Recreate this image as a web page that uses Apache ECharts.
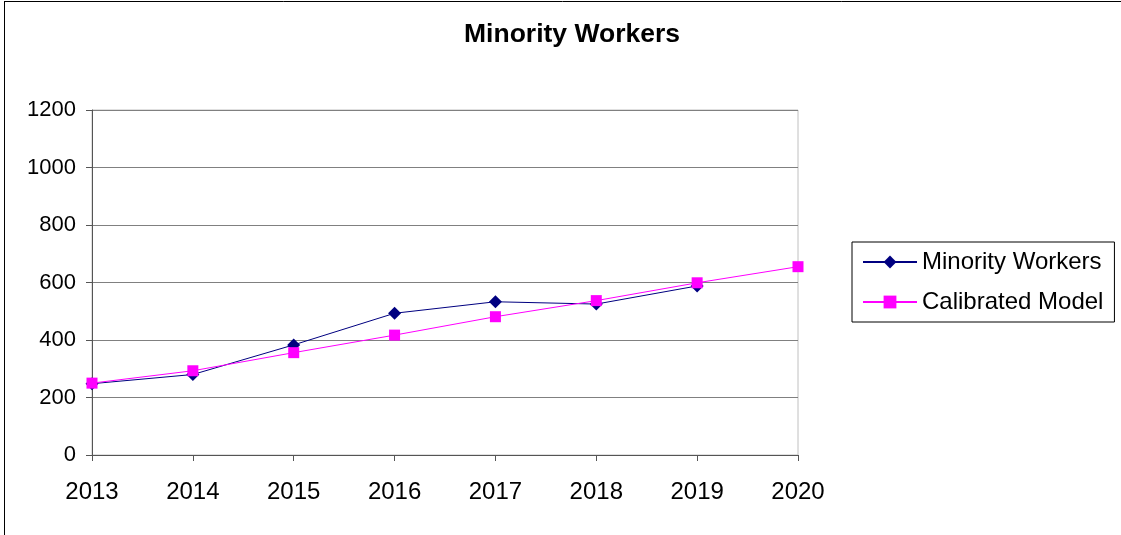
<!DOCTYPE html>
<html>
<head>
<meta charset="utf-8">
<script src="https://cdn.jsdelivr.net/npm/echarts@6/dist/echarts.min.js"></script>
<style>
  html, body { margin: 0; padding: 0; background: #fff; }
  #chart { width: 1121px; height: 535px; }
</style>
</head>
<body>
<div id="chart"></div>
<script>
const years = ['2013', '2014', '2015', '2016', '2017', '2018', '2019', '2020']
const minorityWorkers = [248, 280, 383, 493, 533, 525, 588, null]
const calibratedModel = [250, 293, 356, 417, 481, 537, 599, 655]
const yTicks = { min: 0, max: 1200, interval: 200 }

const chart = echarts.init(document.getElementById('chart'))
const font = 'Liberation Sans, Arial, sans-serif'

const option = {
  backgroundColor: '#fff',
  animation: false,
  title: {
    text: 'Minority Workers',
    left: 567,
    top: 16,
    textAlign: 'center',
    textStyle: { fontFamily: font, fontSize: 26.5, fontWeight: 'bold', color: '#000' }
  },
  legend: {
    orient: 'vertical',
    left: 852,
    top: 242,
    padding: [8, 11, 8, 10],
    itemGap: 16,
    itemWidth: 54,
    itemHeight: 16,
    borderColor: '#000',
    borderWidth: 1,
    textStyle: { fontFamily: font, fontSize: 24, color: '#000' },
    data: ['Minority Workers', 'Calibrated Model']
  },
  grid: {
    left: 92,
    right: 323,
    top: 110,
    bottom: 80,
    show: true,
    borderColor: '#c0c0c0',
    borderWidth: 1
  },
  xAxis: {
    type: 'category',
    data: years,
    boundaryGap: false,
    axisLine: { lineStyle: { color: '#555', width: 1 } },
    axisTick: { show: true, length: 6, inside: false, alignWithLabel: true, lineStyle: { color: '#555' } },
    axisLabel: { fontFamily: font, fontSize: 24, color: '#000', margin: 25 },
    splitLine: { show: false }
  },
  yAxis: {
    type: 'value',
    min: yTicks.min,
    max: yTicks.max,
    interval: yTicks.interval,
    axisLine: { show: true, lineStyle: { color: '#555', width: 1 } },
    axisTick: { show: true, length: 6, lineStyle: { color: '#555' } },
    axisLabel: { fontFamily: font, fontSize: 22, color: '#000', margin: 16, formatter: (v) => String(v) },
    splitLine: { show: true, lineStyle: { color: '#808080', width: 1 } }
  },
  series: [
    {
      name: 'Minority Workers',
      type: 'line',
      data: minorityWorkers,
      symbol: 'diamond',
      symbolSize: 13,
      lineStyle: { color: '#000080', width: 1 },
      itemStyle: { color: '#000080' },
      z: 2
    },
    {
      name: 'Calibrated Model',
      type: 'line',
      data: calibratedModel,
      symbol: 'rect',
      symbolSize: 11,
      lineStyle: { color: '#ff00ff', width: 1 },
      itemStyle: { color: '#ff00ff' },
      z: 3
    }
  ],
  graphic: [
    { type: 'line', shape: { x1: 4.5, y1: 1, x2: 4.5, y2: 535 }, style: { stroke: '#000', lineWidth: 1 } },
    { type: 'line', shape: { x1: 4, y1: 1.5, x2: 1121, y2: 1.5 }, style: { stroke: '#000', lineWidth: 1 } }
  ]
}

chart.setOption(option)
</script>
</body>
</html>
